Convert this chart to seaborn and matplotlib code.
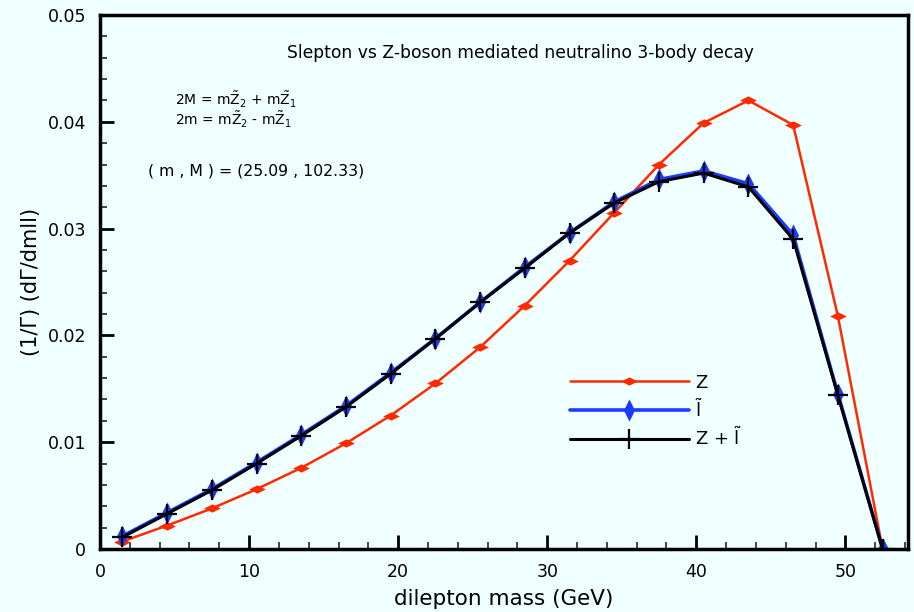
import matplotlib
matplotlib.use("Agg")
import matplotlib.pyplot as plt
import numpy as np
import pandas as pd
import seaborn as sns
from matplotlib.path import Path
from matplotlib.ticker import MultipleLocator, FuncFormatter

# dilepton mass bins (GeV)
mass = [1.5, 4.5, 7.5, 10.5, 13.5, 16.5, 19.5, 22.5, 25.5,
        28.5, 31.5, 34.5, 37.5, 40.5, 43.5, 46.5, 49.5, 52.5]

z_only = [0.0007, 0.0022, 0.0038, 0.0056, 0.0076, 0.0099, 0.0125, 0.0155, 0.0189,
          0.0228, 0.0270, 0.0315, 0.0360, 0.0399, 0.0420, 0.0397, 0.0218, 0.0]
slepton = [0.0012, 0.0034, 0.0056, 0.0081, 0.0107, 0.0134, 0.0165, 0.0197, 0.0231,
           0.0264, 0.0296, 0.0325, 0.0346, 0.0354, 0.0342, 0.0294, 0.0145, 0.0]
z_plus_sl = [0.0011, 0.0033, 0.0055, 0.0080, 0.0106, 0.0133, 0.0164, 0.0197, 0.0231,
             0.0263, 0.0296, 0.0324, 0.0344, 0.0352, 0.0339, 0.0290, 0.0144, 0.0]

labels = ["Z", r"$\mathrm{\tilde{l}}$", r"Z + $\mathrm{\tilde{l}}$"]

sns.set_theme(style="ticks")
plt.rcParams["font.family"] = ["DejaVu Sans"]
plt.rcParams["mathtext.fontset"] = "custom"
plt.rcParams["mathtext.rm"] = "DejaVu Sans"
plt.rcParams["mathtext.it"] = "DejaVu Sans:italic"
plt.rcParams["text.color"] = "black"
plt.rcParams["axes.labelcolor"] = "black"

bg = "#f0ffff"
fig = plt.figure(figsize=(9.14, 6.12), dpi=100, facecolor=bg)
ax = fig.add_axes([0.1094, 0.1029, 0.8840, 0.8726])
ax.set_facecolor(bg)

# wide flat diamond for the Z curve, tall thin one for the slepton curve
flat_diamond = Path([(-1, 0), (0, 0.5), (1, 0), (0, -0.5), (-1, 0)],
                    [Path.MOVETO, Path.LINETO, Path.LINETO, Path.LINETO, Path.CLOSEPOLY])
thin_diamond = Path([(0, -1), (0.5, 0), (0, 1), (-0.5, 0), (0, -1)],
                    [Path.MOVETO, Path.LINETO, Path.LINETO, Path.LINETO, Path.CLOSEPOLY])

df = pd.DataFrame({"mass": mass, "z": z_only, "sl": slepton, "both": z_plus_sl})

sns.lineplot(data=df, x="mass", y="z", ax=ax, color="#ff2a00", lw=1.8,
             marker=flat_diamond, markersize=12, markeredgewidth=0, label=labels[0])
sns.lineplot(data=df, x="mass", y="sl", ax=ax, color="#1a3cff", lw=2.6,
             marker=thin_diamond, markersize=16, markeredgewidth=0, label=labels[1])
sns.lineplot(data=df, x="mass", y="both", ax=ax, color="black", lw=2.2,
             marker="+", markersize=14, markeredgewidth=1.6,
             markeredgecolor="black", label=labels[2])

ax.set_xlim(0, 54.2)
ax.set_ylim(0, 0.05)
ax.xaxis.set_major_locator(MultipleLocator(10))
ax.xaxis.set_minor_locator(MultipleLocator(2))
ax.yaxis.set_major_locator(MultipleLocator(0.01))
ax.yaxis.set_minor_locator(MultipleLocator(0.002))
ax.yaxis.set_major_formatter(FuncFormatter(lambda v, p: "0" if abs(v) < 1e-9 else f"{v:.2f}"))
ax.tick_params(which="major", direction="in", length=10, width=2, labelsize=12.5,
               colors="black", pad=10)
ax.tick_params(which="minor", direction="in", length=5, width=1.2)
for s in ax.spines.values():
    s.set_linewidth(2.5)
    s.set_color("black")

ax.set_xlabel("dilepton mass (GeV)", fontsize=15.5, labelpad=6)
ax.set_ylabel("(1/\u0393) (d\u0393/dmll)", fontsize=15, labelpad=5)

ax.text(0.52, 0.92, "Slepton vs Z-boson mediated neutralino 3-body decay",
        transform=ax.transAxes, fontsize=12.3, ha="center")
ax.text(0.093, 0.83, r"2M = m$\mathrm{\tilde{Z}}_2$ + m$\mathrm{\tilde{Z}}_1$",
        transform=ax.transAxes, fontsize=10)
ax.text(0.093, 0.793, r"2m = m$\mathrm{\tilde{Z}}_2$ - m$\mathrm{\tilde{Z}}_1$",
        transform=ax.transAxes, fontsize=10)
ax.text(0.06, 0.70, "( m , M ) = (25.09 , 102.33)",
        transform=ax.transAxes, fontsize=11.3)

ax.legend(loc="upper left", bbox_to_anchor=(0.57, 0.345), frameon=False,
          fontsize=13, handlelength=6.6, handletextpad=0.35, labelspacing=0.35,
          borderpad=0)

fig.savefig("out.png", dpi=100, facecolor=bg)
